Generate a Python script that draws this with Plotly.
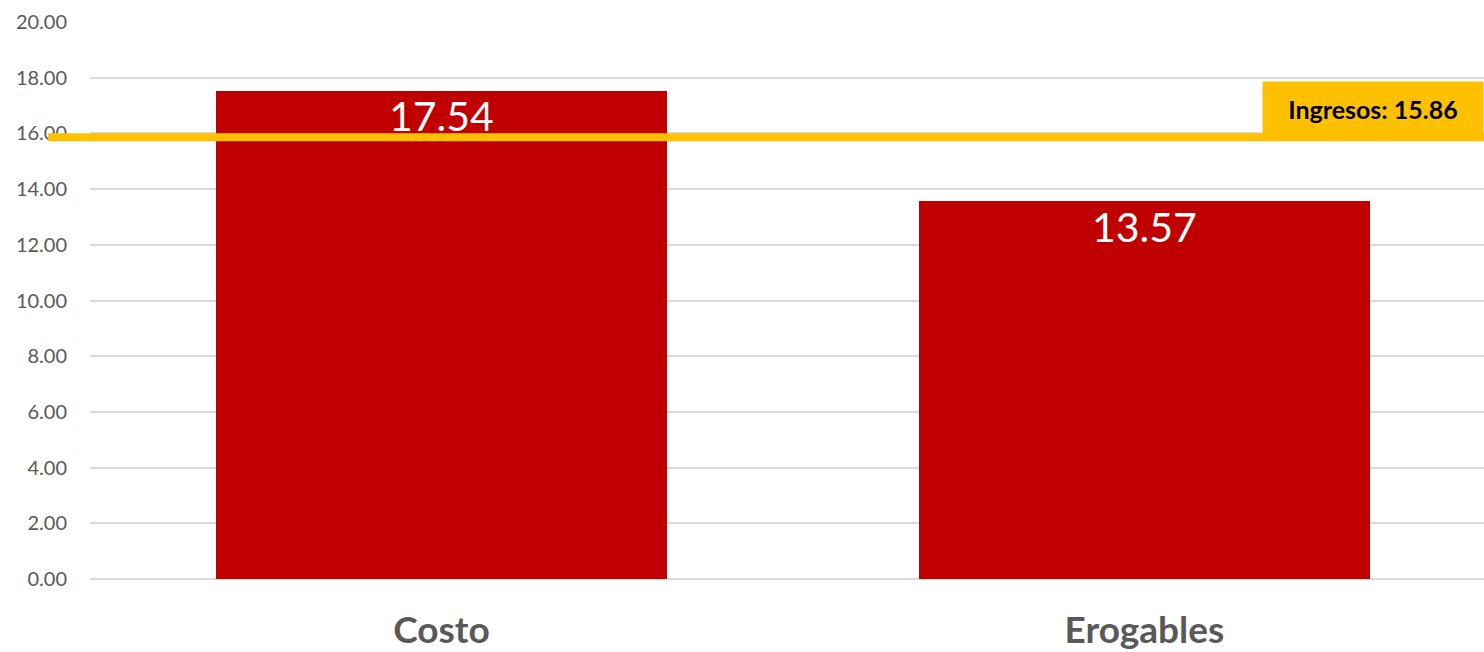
import plotly.graph_objects as go

# Chart data
categories = ["Costo", "Erogables"]
values = [17.54, 13.57]
ingresos = 15.86
y_ticks = [0, 2, 4, 6, 8, 10, 12, 14, 16, 18, 20]

BAR_RED = "#C00000"
GOLD = "#FFC000"
GREY_TEXT = "#595959"
FONT = "Lato, 'Open Sans', sans-serif"

x_pos = list(range(len(categories)))

fig = go.Figure()
fig.add_trace(go.Bar(
    x=x_pos,
    y=values,
    width=0.642,
    marker=dict(color=BAR_RED, line=dict(width=0)),
    hoverinfo="skip",
))

# Income reference line
fig.add_shape(
    type="line", xref="paper", yref="y",
    x0=-0.030, x1=1.0, y0=ingresos, y1=ingresos,
    line=dict(color=GOLD, width=8),
    layer="above",
)

# Value labels just inside the top of each bar
for xp, v in zip(x_pos, values):
    fig.add_annotation(
        x=xp, y=v, xref="x", yref="y",
        text=f"{v:.2f}",
        showarrow=False,
        xanchor="center", yanchor="middle",
        yshift=-25,
        font=dict(family=FONT, size=41, color="white"),
    )

# Income label box
fig.add_annotation(
    xref="paper", yref="y",
    x=1.0, y=16.88,
    xanchor="right", yanchor="middle",
    text=f"<b>Ingresos: {ingresos:.2f}</b>",
    showarrow=False,
    bgcolor=GOLD,
    width=220, height=54,
    borderpad=0,
    font=dict(family=FONT, size=25, color="black"),
)

fig.update_layout(
    width=1484, height=652,
    margin=dict(l=90, r=0, t=22, b=73),
    paper_bgcolor="white",
    plot_bgcolor="white",
    showlegend=False,
    bargap=0,
    xaxis=dict(
        range=[-0.5, 1.483],
        tickvals=x_pos,
        ticktext=[f"<b>{c}</b>" for c in categories],
        tickfont=dict(family=FONT, size=37, color=GREY_TEXT),
        showgrid=False,
        zeroline=False,
        showline=False,
        ticks="",
        ticklabelstandoff=26,
        automargin=False,
        fixedrange=True,
    ),
    yaxis=dict(
        range=[0, 20],
        tickvals=y_ticks,
        ticktext=[f"{t:.2f}" for t in y_ticks],
        tickfont=dict(family=FONT, size=20, color=GREY_TEXT),
        showgrid=True,
        gridcolor="#D9D9D9",
        gridwidth=1.5,
        zeroline=True,
        zerolinecolor="#D9D9D9",
        zerolinewidth=1.5,
        showline=False,
        ticks="",
        ticklabelstandoff=22,
        automargin=False,
        fixedrange=True,
    ),
)

fig.write_html("out.html")
